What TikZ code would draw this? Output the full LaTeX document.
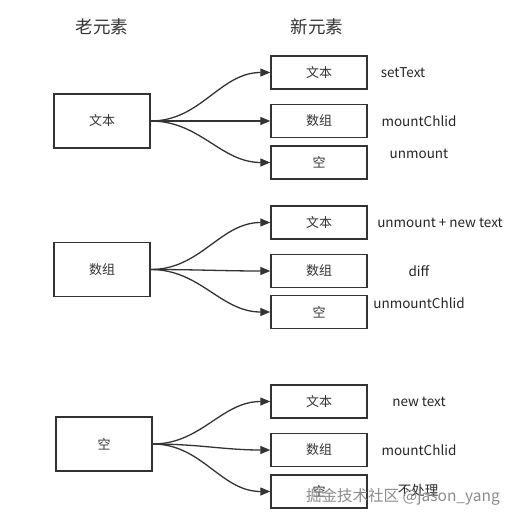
\documentclass[tikz,border=0pt]{standalone}
\usepackage{fontspec}
\setmainfont{Noto Sans CJK SC}
\usetikzlibrary{arrows.meta}
\definecolor{ink}{HTML}{333333}
\tikzset{
  box/.style={draw=ink, line width=1.4pt, minimum width=96pt, inner sep=0pt, font=\fontsize{13}{15}\selectfont, text=ink},
  oldbox/.style={box, minimum height=54pt},
  newbox/.style={box, minimum height=33pt},
  lbl/.style={font=\fontsize{13.5}{15}\selectfont, text=black!85, inner sep=0pt},
  ttl/.style={font=\fontsize{17.5}{20}\selectfont, text=ink},
  conn/.style={draw=ink, line width=1.3pt, -{Triangle[length=10pt,width=8pt]}, out=0, in=180},
  wm/.style={font=\fontsize{15.5}{18}\selectfont, text=black!45}
}
\begin{document}
\begin{tikzpicture}[x=1pt,y=-1pt]
\useasboundingbox (0,0) rectangle (516,521);
\node[ttl] (t1) at (102,27) {老元素};
\node[ttl] (t2) at (317,27) {新元素};
% section 1
\node[oldbox] (o1) at (102,121) {文本};
\node[newbox] (a1) at (319,72.5) {文本};
\node[newbox] (b1) at (319,121) {数组};
\node[newbox] (c1) at (319,162.5) {空};
\node[lbl] (la1) at (403,73) {setText};
\node[lbl] (lb1) at (419,121) {mountChlid};
\node[lbl] (lc1) at (419,154) {unmount};
\draw[conn] (o1.east) to (a1.west);
\draw[conn] (o1.east) to (b1.west);
\draw[conn] (o1.east) to (c1.west);
% section 2
\node[oldbox] (o2) at (102,269.5) {数组};
\node[newbox] (a2) at (319,222.5) {文本};
\node[newbox] (b2) at (319,271) {数组};
\node[newbox] (c2) at (319,312) {空};
\node[lbl] (la2) at (440,223) {unmount + new text};
\node[lbl] (lb2) at (419,271) {diff};
\node[lbl] (lc2) at (419,303) {unmountChlid};
\draw[conn] (o2.east) to (a2.west);
\draw[conn] (o2.east) to (b2.west);
\draw[conn] (o2.east) to (c2.west);
% section 3
\node[oldbox] (o3) at (104,444) {空};
\node[newbox] (a3) at (319,401.5) {文本};
\node[newbox] (b3) at (319,450) {数组};
\node[newbox] (c3) at (319,491.5) {空};
\node[lbl] (la3) at (419,402) {new text};
\node[lbl] (lb3) at (419,450) {mountChlid};
\node[lbl] (lc3) at (418,490) {不处理};
\draw[conn] (o3.east) to (a3.west);
\draw[conn] (o3.east) to (b3.west);
\draw[conn] (o3.east) to (c3.west);
\node[wm] (wm) at (403,497) {掘金技术社区 @jason\_yang};
\end{tikzpicture}
\end{document}
